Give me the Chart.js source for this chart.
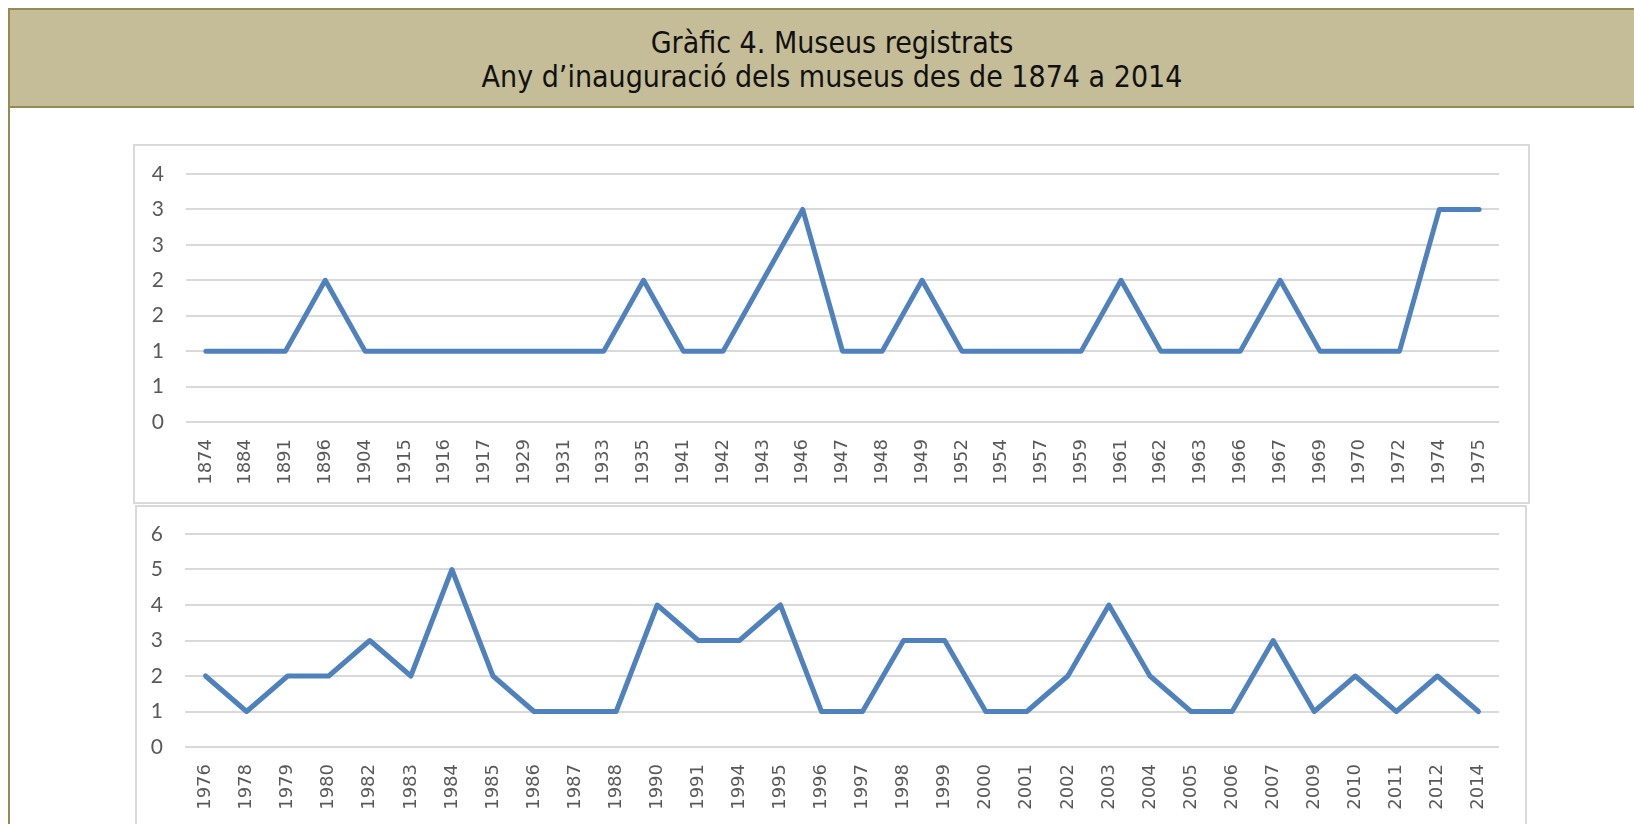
<!DOCTYPE html>
<html>
<head>
<meta charset="utf-8">
<script src="https://cdn.jsdelivr.net/npm/chart.js@4"></script>
<style>
    html, body { margin: 0; padding: 0; background: #fff; overflow: hidden; }
    body { width: 1634px; height: 824px; position: relative; }
    .frame {
        position: absolute; left: 8px; top: 8px; width: 1660px; height: 900px;
        border-left: 2px solid #948A54; box-sizing: border-box;
    }
    .header {
        position: absolute; left: 8px; top: 8px; width: 1648px; height: 100px;
        background: #C4BD97; border: 2px solid #948A54; box-sizing: border-box;
        font-family: 'DejaVu Sans Condensed', 'DejaVu Sans', sans-serif;
        font-size: 30px; line-height: 34px; color: #111; text-align: center;
    }
    .header .l1 { position: absolute; left: 0; right: 0; top: 16px; }
    .header .l2 { position: absolute; left: 0; right: 0; top: 50px; }
    .box { position: absolute; border: 2px solid #D9D9D9; box-sizing: border-box; background: #fff; }
    .box canvas { position: absolute; left: 0; top: 0; }
</style>
</head>
<body>
<div class="frame"></div>
<div class="header">
    <div class="l1">Gràfic 4. Museus registrats</div>
    <div class="l2">Any d’inauguració dels museus des de 1874 a 2014</div>
</div>
<div class="box" id="topBox" style="left:133px; top:144px; width:1397px; height:360px;">
    <canvas id="topChart" width="1393" height="356"></canvas>
</div>
<div class="box" id="bottomBox" style="left:135px; top:505px; width:1392px; height:340px;">
    <canvas id="bottomChart" width="1388" height="336"></canvas>
</div>
<script>
// 1874 - 1975
const topYears = ['1874', '1884', '1891', '1896', '1904', '1915', '1916', '1917', '1929', '1931',
    '1933', '1935', '1941', '1942', '1943', '1946', '1947', '1948', '1949', '1952', '1954',
    '1957', '1959', '1961', '1962', '1963', '1966', '1967', '1969', '1970', '1972', '1974', '1975'];
const topValues = [1, 1, 1, 2, 1, 1, 1, 1, 1, 1,
    1, 2, 1, 1, 2, 3, 1, 1, 2, 1, 1,
    1, 1, 2, 1, 1, 1, 2, 1, 1, 1, 3, 3];

// 1976 - 2014
const bottomYears = ['1976', '1978', '1979', '1980', '1982', '1983', '1984', '1985', '1986', '1987',
    '1988', '1990', '1991', '1994', '1995', '1996', '1997', '1998', '1999', '2000', '2001',
    '2002', '2003', '2004', '2005', '2006', '2007', '2009', '2010', '2011', '2012', '2014'];
const bottomValues = [2, 1, 2, 2, 3, 2, 5, 2, 1, 1,
    1, 4, 3, 3, 4, 1, 1, 3, 3, 1, 1,
    2, 4, 2, 1, 1, 3, 1, 2, 1, 2, 1];

const topAxis = { max: 3.5, step: 0.5 };
const bottomAxis = { max: 6, step: 1 };

const LINE_COLOR = '#4F81BD';
const GRID_COLOR = '#D9D9D9';
const TEXT_COLOR = '#595959';

function makeChart(canvasId, labels, values, axis, pad, yWidth, xHeight) {
    const ctx = document.getElementById(canvasId).getContext('2d');
    return new Chart(ctx, {
        type: 'line',
        data: {
            labels: labels,
            datasets: [{
                data: values,
                borderColor: LINE_COLOR,
                borderWidth: 5,
                borderJoinStyle: 'round',
                borderCapStyle: 'round',
                pointRadius: 0,
                tension: 0,
                fill: false
            }]
        },
        options: {
            responsive: false,
            animation: false,
            layout: { padding: pad, autoPadding: false },
            plugins: {
                legend: { display: false },
                tooltip: { enabled: false }
            },
            scales: {
                x: {
                    offset: true,
                    grid: { display: false, drawTicks: false },
                    border: { display: false },
                    ticks: {
                        minRotation: 90,
                        maxRotation: 90,
                        autoSkip: false,
                        padding: 17,
                        color: TEXT_COLOR,
                        font: { family: 'DejaVu Sans', size: 18 }
                    },
                    afterFit: (scale) => {
                        scale.height = xHeight;
                        scale.paddingLeft = 0;
                        scale.paddingRight = 0;
                    }
                },
                y: {
                    min: 0,
                    max: axis.max,
                    grid: { color: GRID_COLOR, lineWidth: 2, drawTicks: false },
                    border: { display: false },
                    ticks: {
                        stepSize: axis.step,
                        padding: 22,
                        color: TEXT_COLOR,
                        font: { family: 'Lato', size: 21 },
                        // Excel shows the half steps rounded
                        callback: (value) => Math.round(value)
                    },
                    afterFit: (scale) => {
                        // the plot area is set by layout padding only
                        scale.width = yWidth;
                        scale.paddingTop = 0;
                        scale.paddingBottom = 0;
                    }
                }
            }
        }
    });
}

makeChart('topChart', topYears, topValues, topAxis,
    { left: 0, right: 29, top: 28, bottom: 0 }, 51, 80);
makeChart('bottomChart', bottomYears, bottomValues, bottomAxis,
    { left: 0, right: 26, top: 27, bottom: 0 }, 48, 96);
</script>
</body>
</html>
